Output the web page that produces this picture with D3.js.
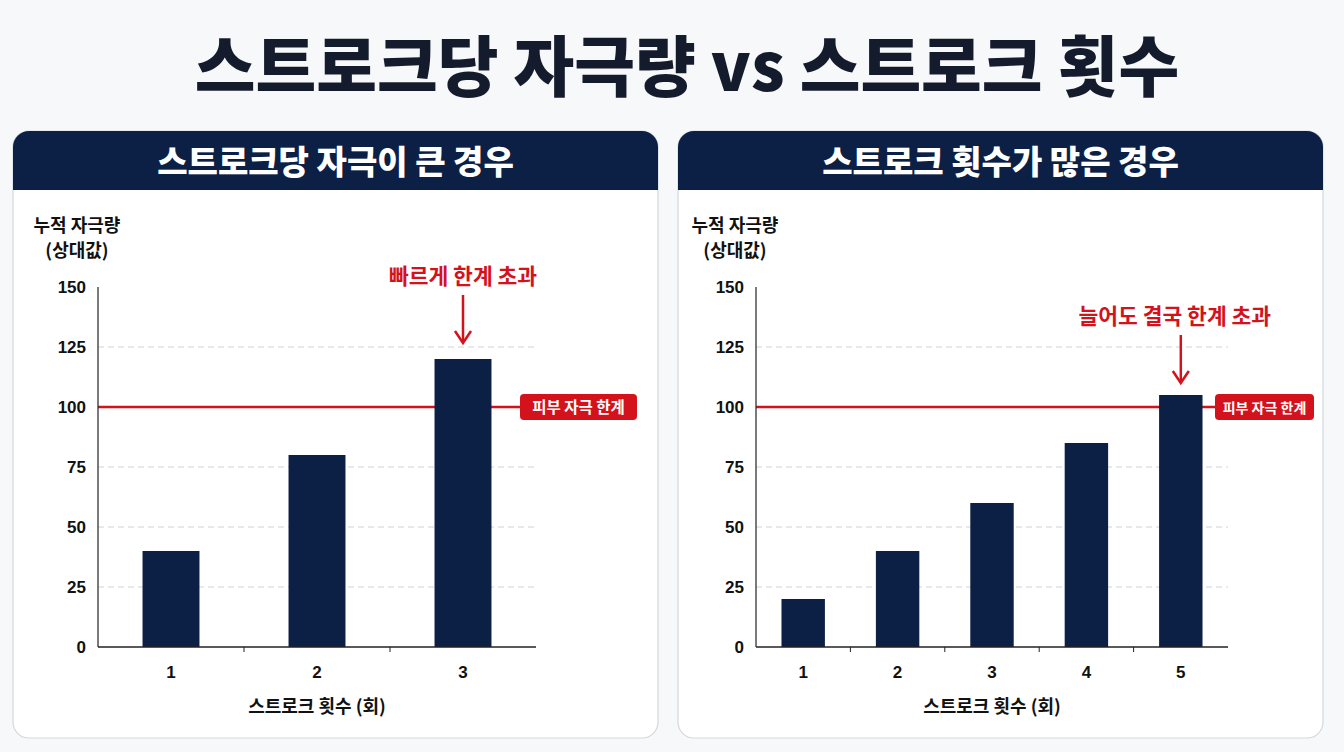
<!DOCTYPE html>
<html>
<head>
<meta charset="utf-8">
<script src="https://cdn.jsdelivr.net/npm/d3@7"></script>
<style>
  body { margin: 0; background: #f7f8fa; }
  text { font-family: "Noto Sans CJK KR", "Noto Sans", sans-serif; }
  .num { font-family: "Liberation Sans", Arial, sans-serif; font-weight: bold; }
</style>
</head>
<body>
<script>
var width = 1344,
    height = 752;

// data
var title = "스트로크당 자극량 vs 스트로크 횟수";
var panelTitles = ["스트로크당 자극이 큰 경우", "스트로크 횟수가 많은 경우"];
var leftStrokes = ["1", "2", "3"];
var leftValues = [40, 80, 120];
var rightStrokes = ["1", "2", "3", "4", "5"];
var rightValues = [20, 40, 60, 85, 105];
var yTicks = [0, 25, 50, 75, 100, 125, 150];
var limitValue = 100;
var limitLabel = "피부 자극 한계";
var notes = ["빠르게 한계 초과", "늘어도 결국 한계 초과"];
var yLabel = ["누적 자극량", "(상대값)"];
var xLabel = "스트로크 횟수 (회)";

var navy = "#0c1f45",
    red = "#d3121c";

var svg = d3.select("body")
	.append("svg")
	.attr("width", width)
	.attr("height", height);

// main title
svg.append("text")
	.attr("x", 687)
	.attr("y", 91)
	.attr("text-anchor", "middle")
	.attr("font-size", 66)
	.attr("font-weight", 900)
	.attr("fill", "#141b2d")
	.text(title);

var panels = [
	{ x: 13, cats: leftStrokes, vals: leftValues, range: [98, 536], pad: 0.61,
	  axisX: 98, note: notes[0], noteSize: 21.5, gap: 16, badgeX: 520, badgeW: 117, badgeFont: 15.5 },
	{ x: 678, cats: rightStrokes, vals: rightValues, range: [756, 1228], pad: 0.54,
	  axisX: 756, note: notes[1], noteSize: 21.5, gap: 12, badgeX: 1215, badgeW: 99, badgeFont: 14 }
];

var panelW = 645,
    panelTop = 131,
    panelH = 607,
    headH = 59;

var yScale = d3.scaleLinear()
	.domain([0, 150])
	.range([647, 287]);

panels.forEach(function(p, pi) {
	var g = svg.append("g");

	g.append("clipPath")
		.attr("id", "clip" + pi)
		.append("rect")
		.attr("x", p.x)
		.attr("y", panelTop)
		.attr("width", panelW)
		.attr("height", panelH)
		.attr("rx", 16);

	g.append("rect")
		.attr("x", p.x)
		.attr("y", panelTop)
		.attr("width", panelW)
		.attr("height", panelH)
		.attr("rx", 16)
		.attr("fill", "#ffffff")
		.attr("stroke", "#d3d7df")
		.attr("stroke-width", 1.2);

	g.append("rect")
		.attr("clip-path", "url(#clip" + pi + ")")
		.attr("x", p.x)
		.attr("y", panelTop)
		.attr("width", panelW)
		.attr("height", headH)
		.attr("fill", navy);

	g.append("text")
		.attr("x", p.x + panelW / 2)
		.attr("y", panelTop + 43)
		.attr("text-anchor", "middle")
		.attr("font-size", 33)
		.attr("font-weight", 900)
		.attr("fill", "#ffffff")
		.text(panelTitles[pi]);

	// y label
	g.selectAll(".ylab")
		.data(yLabel)
		.enter()
		.append("text")
		.attr("x", p.axisX - 21)
		.attr("y", function(d, i) { return 232 + i * 25; })
		.attr("text-anchor", "middle")
		.attr("font-size", 18)
		.attr("font-weight", 700)
		.attr("fill", "#111111")
		.text(function(d) { return d; });

	var xScale = d3.scaleBand()
		.domain(p.cats)
		.range(p.range)
		.paddingInner(p.pad)
		.paddingOuter(p.pad / 2);

	var step = xScale.step();

	// gridlines
	g.selectAll(".grid")
		.data(yTicks.filter(function(d) { return d > 0 && d < 150 && d !== limitValue; }))
		.enter()
		.append("line")
		.attr("x1", p.range[0])
		.attr("x2", p.range[1])
		.attr("y1", function(d) { return yScale(d); })
		.attr("y2", function(d) { return yScale(d); })
		.attr("stroke", "#cfd2d8")
		.attr("stroke-width", 1)
		.attr("stroke-dasharray", "6,4");

	// limit line
	g.append("line")
		.attr("x1", p.range[0])
		.attr("x2", p.badgeX + 2)
		.attr("y1", yScale(limitValue))
		.attr("y2", yScale(limitValue))
		.attr("stroke", red)
		.attr("stroke-width", 2.5);

	// bars
	g.selectAll(".bar")
		.data(p.vals)
		.enter()
		.append("rect")
		.attr("x", function(d, i) { return xScale(p.cats[i]); })
		.attr("y", function(d) { return yScale(d); })
		.attr("width", xScale.bandwidth())
		.attr("height", function(d) { return yScale(0) - yScale(d); })
		.attr("fill", navy);

	// badge
	var badge = g.append("g")
		.attr("transform", "translate(" + p.badgeX + "," + (yScale(limitValue) - 13) + ")");
	badge.append("rect")
		.attr("width", p.badgeW)
		.attr("height", 26)
		.attr("rx", 4)
		.attr("fill", red);
	badge.append("text")
		.attr("x", p.badgeW / 2)
		.attr("y", 18.5)
		.attr("text-anchor", "middle")
		.attr("font-size", p.badgeFont)
		.attr("font-weight", 700)
		.attr("fill", "#ffffff")
		.text(limitLabel);

	// y axis
	g.append("line")
		.attr("x1", p.axisX)
		.attr("x2", p.axisX)
		.attr("y1", yScale(150))
		.attr("y2", yScale(0))
		.attr("stroke", "#222222")
		.attr("stroke-width", 1.2);

	g.selectAll(".ytick")
		.data(yTicks)
		.enter()
		.append("text")
		.attr("class", "num")
		.attr("x", p.axisX - 12)
		.attr("y", function(d) { return yScale(d) + 6; })
		.attr("text-anchor", "end")
		.attr("font-size", 17)
		.attr("fill", "#111111")
		.text(function(d) { return d; });

	// x axis
	g.append("line")
		.attr("x1", p.range[0])
		.attr("x2", p.range[1])
		.attr("y1", yScale(0))
		.attr("y2", yScale(0))
		.attr("stroke", "#222222")
		.attr("stroke-width", 1.5);

	g.selectAll(".xtick")
		.data(d3.range(1, p.cats.length))
		.enter()
		.append("line")
		.attr("x1", function(d) { return p.range[0] + d * step; })
		.attr("x2", function(d) { return p.range[0] + d * step; })
		.attr("y1", yScale(0))
		.attr("y2", yScale(0) + 5)
		.attr("stroke", "#222222");

	g.selectAll(".xlab")
		.data(p.cats)
		.enter()
		.append("text")
		.attr("class", "num")
		.attr("x", function(d) { return xScale(d) + xScale.bandwidth() / 2; })
		.attr("y", 678)
		.attr("text-anchor", "middle")
		.attr("font-size", 17)
		.attr("fill", "#111111")
		.text(function(d) { return d; });

	g.append("text")
		.attr("x", (p.range[0] + p.range[1]) / 2)
		.attr("y", 713)
		.attr("text-anchor", "middle")
		.attr("font-size", 18)
		.attr("font-weight", 700)
		.attr("fill", "#111111")
		.text(xLabel);

	// annotation on the last bar
	var last = p.cats.length - 1;
	var ax = xScale(p.cats[last]) + xScale.bandwidth() / 2;
	var tip = yScale(p.vals[last]) - p.gap;

	g.append("text")
		.attr("x", ax - (pi === 0 ? 0 : 6))
		.attr("y", tip - 59)
		.attr("text-anchor", "middle")
		.attr("font-size", p.noteSize)
		.attr("font-weight", 700)
		.attr("fill", red)
		.text(p.note);

	g.append("line")
		.attr("x1", ax)
		.attr("x2", ax)
		.attr("y1", tip - 48)
		.attr("y2", tip - 2)
		.attr("stroke", red)
		.attr("stroke-width", 2.5);

	g.append("path")
		.attr("d", "M" + (ax - 8) + "," + (tip - 12) + " L" + ax + "," + tip + " L" + (ax + 8) + "," + (tip - 12))
		.attr("fill", "none")
		.attr("stroke", red)
		.attr("stroke-width", 2.5)
		.attr("stroke-linejoin", "miter");
});
</script>
</body>
</html>
